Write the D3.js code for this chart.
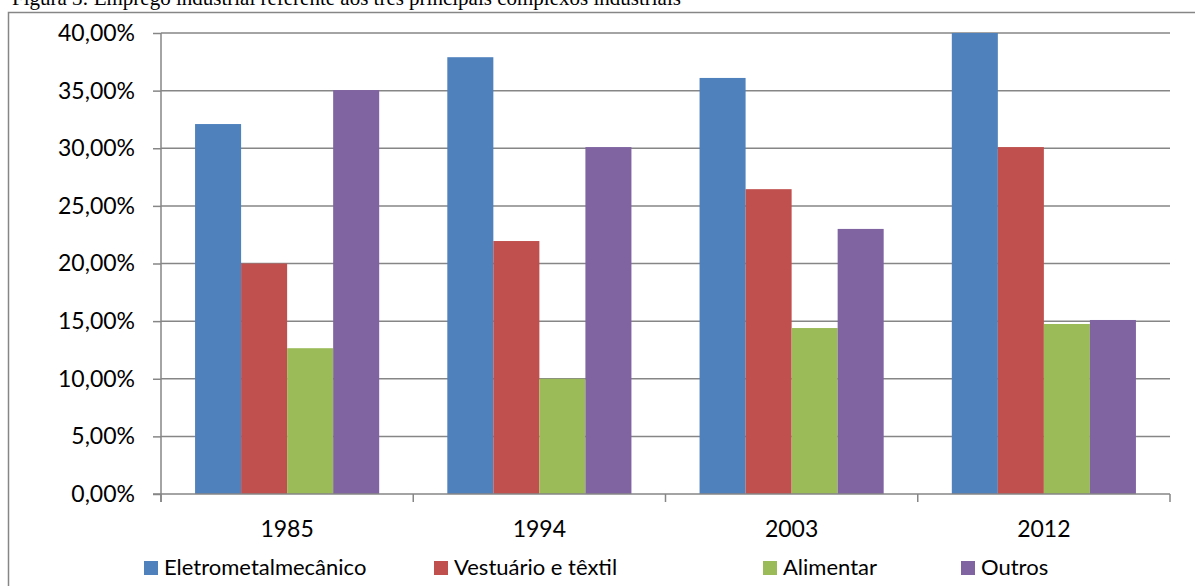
<!DOCTYPE html>
<html><head><meta charset="utf-8">
<script src="https://cdn.jsdelivr.net/npm/d3@7"></script>
<style>body{margin:0;background:#fff;overflow:hidden}</style>
</head><body>
<svg id="c" width="1195" height="586"></svg>
<script>
const categories = ["1985", "1994", "2003", "2012"];
const seriesNames = ["Eletrometalmecânico", "Vestuário e têxtil", "Alimentar", "Outros"];
const eletrometalmecanico = [32.1, 37.9, 36.1, 40.0];
const vestuarioTextil = [20.0, 21.95, 26.45, 30.1];
const alimentar = [12.65, 10.0, 14.4, 14.75];
const outros = [35.05, 30.1, 23.0, 15.1];
const yTicks = [0, 5, 10, 15, 20, 25, 30, 35, 40];
const colors = ["#4F81BD", "#C0504D", "#9BBB59", "#8064A2"];
const caption = "Figura 3: Emprego industrial referente aos três principais complexos industriais";

const seriesValues = [eletrometalmecanico, vestuarioTextil, alimentar, outros];
const svg = d3.select("#c");
const font = "Lato, 'Open Sans', sans-serif";
const grey = "#868686";

// caption (cut off at the top, as in the reference)
svg.append("text").attr("x", 12).attr("y", 5).attr("font-family", "'Liberation Serif', serif")
  .attr("font-size", 21).attr("fill", "#000").text(caption);

// outer frame
svg.append("rect").attr("x", 8.5).attr("y", 12.5).attr("width", 1200).attr("height", 600)
  .attr("fill", "#fff").attr("stroke", grey).attr("stroke-width", 1.5);

const m = {l: 161, r: 1170, t: 33, b: 494};
const x0 = d3.scaleBand().domain(categories).range([m.l, m.r]).paddingInner(0).paddingOuter(0);
const x1 = d3.scaleBand().domain(d3.range(seriesNames.length)).range([0, x0.bandwidth()])
  .paddingInner(0).paddingOuter(0.74);
const y = d3.scaleLinear().domain([0, 40]).range([m.b, m.t]);

// gridlines
svg.append("g").selectAll("line").data(yTicks.filter(d => d > 0)).join("line")
  .attr("x1", m.l).attr("x2", m.r).attr("y1", d => y(d)).attr("y2", d => y(d))
  .attr("stroke", grey).attr("stroke-width", 1.5);

// bars
const g = svg.append("g").selectAll("g").data(categories).join("g")
  .attr("transform", c => `translate(${x0(c)},0)`);
g.selectAll("rect").data((c, i) => seriesValues.map((s, k) => ({k, v: s[i]}))).join("rect")
  .attr("x", d => x1(d.k)).attr("width", x1.bandwidth())
  .attr("y", d => y(d.v)).attr("height", d => y(0) - y(d.v))
  .attr("fill", d => colors[d.k]);

// y axis
const yAxis = d3.axisLeft(y).tickValues(yTicks).tickSize(8).tickPadding(18)
  .tickFormat(d => d3.format(".2f")(d).replace(".", ",") + "%");
const ya = svg.append("g").attr("transform", `translate(${m.l},0)`).call(yAxis);
ya.select(".domain").remove();
ya.selectAll(".tick line").attr("stroke", grey).attr("stroke-width", 1.5);
ya.selectAll(".tick text").attr("font-family", font).attr("font-size", 23).attr("fill", "#000");
svg.append("line").attr("x1", m.l).attr("x2", m.l).attr("y1", m.t).attr("y2", m.b + 8)
  .attr("stroke", grey).attr("stroke-width", 1.5);

// x axis
svg.append("line").attr("x1", m.l - 8).attr("x2", m.r).attr("y1", m.b).attr("y2", m.b)
  .attr("stroke", grey).attr("stroke-width", 1.5);
const bounds = categories.map(c => x0(c)).concat([m.r]);
svg.append("g").selectAll("line").data(bounds).join("line")
  .attr("x1", d => d).attr("x2", d => d).attr("y1", m.b).attr("y2", m.b + 8)
  .attr("stroke", grey).attr("stroke-width", 1.5);
svg.append("g").selectAll("text").data(categories).join("text")
  .attr("x", c => x0(c) + x0.bandwidth() / 2).attr("y", 537)
  .attr("text-anchor", "middle").attr("font-family", font).attr("font-size", 23)
  .attr("fill", "#000").text(c => c);

// legend
const legendX = [144, 434, 763, 961];
const lg = svg.append("g").selectAll("g").data(seriesNames).join("g")
  .attr("transform", (d, i) => `translate(${legendX[i]},561)`);
lg.append("rect").attr("width", 14).attr("height", 14).attr("fill", (d, i) => colors[i]);
lg.append("text").attr("x", 20).attr("y", 14).attr("font-family", font).attr("font-size", 22)
  .attr("fill", "#000").text(d => d);
</script>
</body></html>
